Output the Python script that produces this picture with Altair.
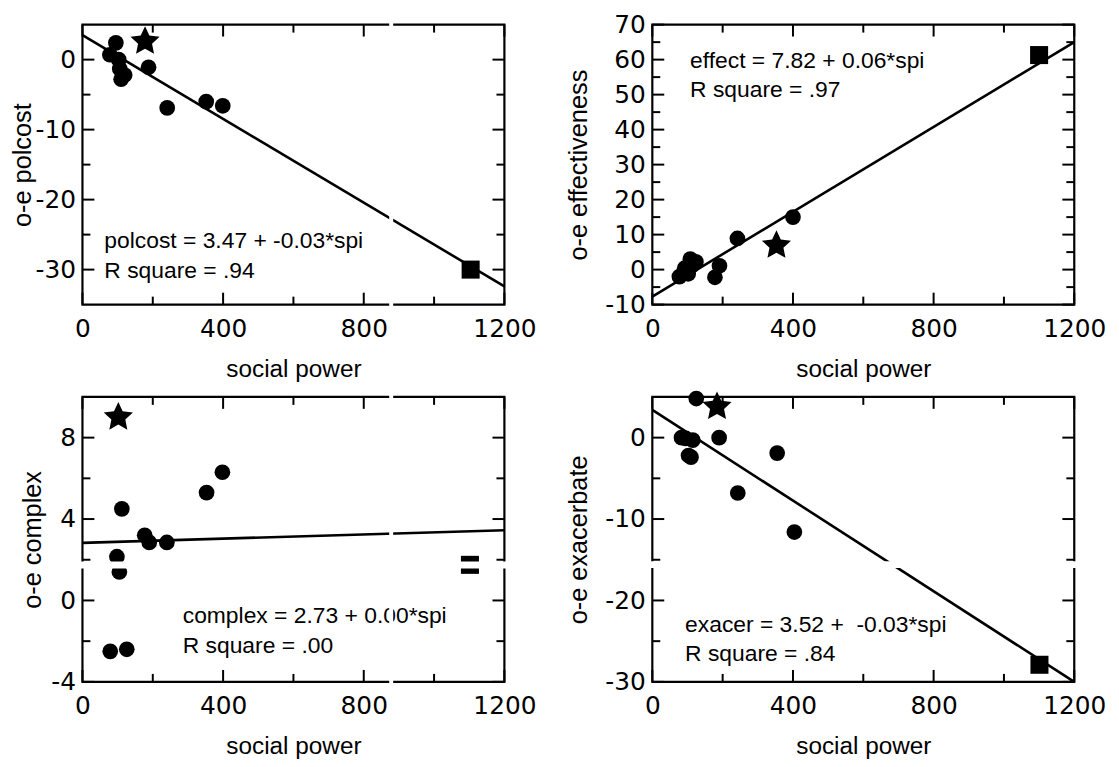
import altair as alt
import pandas as pd
import numpy as np

# ---------------- shared x axis ----------------
x_domain = [0, 1200]
x_major = [0, 400, 800, 1200]
x_minor = [200, 600, 1000]
x_title = "social power"

# ---------------- panel 1: polcost ----------------
pol_circle_x = [78, 95, 103, 106, 110, 120, 188, 241, 352, 399]
pol_circle_y = [0.7, 2.4, 0.0, -1.3, -2.8, -2.2, -1.1, -6.9, -6.0, -6.6]
pol_star_x = [178]
pol_star_y = [2.6]
pol_square_x = [1104]
pol_square_y = [-30.0]
pol_line_x = [0, 1200]
pol_line_y = [3.5, -32.4]
pol_y_domain = [-35, 5]
pol_y_major = [-30, -20, -10, 0]
pol_y_minor = [-25, -15, -5]
pol_notes = ["polcost = 3.47 + -0.03*spi", "R square = .94"]

# ---------------- panel 2: effectiveness ----------------
eff_circle_x = [77, 92, 102, 108, 113, 124, 178, 191, 242, 400]
eff_circle_y = [-2.0, 0.4, -1.2, 3.0, 1.2, 2.2, -2.2, 1.1, 8.9, 15.0]
eff_star_x = [353]
eff_star_y = [6.9]
eff_square_x = [1100]
eff_square_y = [61.3]
eff_line_x = [0, 1200]
eff_line_y = [-7.7, 65.0]
eff_y_domain = [-10, 70]
eff_y_major = [-10, 0, 10, 20, 30, 40, 50, 60, 70]
eff_y_minor = [-5, 5, 15, 25, 35, 45, 55, 65]
eff_notes = ["effect = 7.82 + 0.06*spi", "R square = .97"]

# ---------------- panel 3: complex ----------------
cpx_circle_x = [79, 98, 105, 112, 126, 177, 190, 240, 353, 398]
cpx_circle_y = [-2.5, 2.15, 1.4, 4.5, -2.4, 3.2, 2.85, 2.85, 5.3, 6.3]
cpx_star_x = [102]
cpx_star_y = [9.0]
cpx_square_x = [1102]
cpx_square_y = [1.75]
cpx_line_x = [0, 1200]
cpx_line_y = [2.83, 3.45]
cpx_y_domain = [-4, 10]
cpx_y_major = [-4, 0, 4, 8]
cpx_y_minor = [-2, 2, 6]
cpx_notes = ["complex = 2.73 + 0.00*spi", "R square = .00"]

# ---------------- panel 4: exacerbate ----------------
exa_circle_x = [83, 95, 103, 110, 115, 125, 190, 243, 355, 404]
exa_circle_y = [0.0, -0.1, -2.2, -2.4, -0.3, 4.8, 0.0, -6.8, -1.9, -11.6]
exa_star_x = [184]
exa_star_y = [3.8]
exa_square_x = [1101]
exa_square_y = [-27.9]
exa_line_x = [0, 1200]
exa_line_y = [3.4, -30.0]
exa_y_domain = [-30, 5]
exa_y_major = [-30, -20, -10, 0]
exa_y_minor = [-25, -15, -5]
exa_notes = ["exacer = 3.52 + \u00a0-0.03*spi", "R square = .84"]

# scan gaps visible in the source image (white streaks)
pol_gap_x = [878]
cpx_gap_x = [878]
cpx_gap_y = [1.74]
exa_gap_y = [-15.6]

# ---------------- star symbol ----------------
_ao = np.deg2rad(-90 + 72 * np.arange(5))
_ai = _ao + np.deg2rad(36)
_pts = []
for a, b in zip(_ao, _ai):
    _pts.append((np.cos(a), np.sin(a)))
    _pts.append((0.48 * np.cos(b), 0.48 * np.sin(b)))
STAR = "M" + " L".join(f"{px:.3f},{py:.3f}" for px, py in _pts) + " Z"

FONT = "Liberation Sans"
TICKFONT = "DejaVu Sans"
MAJOR, MINOR = 12, 8


def panel(cx, cy, sx, sy, qx, qy, lx, ly, ydom, ymaj, ymin, ytitle, notes,
          note_x, note_y, width, height, title_pad, vgap=None, hgap=None):
    xs = alt.Scale(domain=x_domain, nice=False, zero=False)
    ys = alt.Scale(domain=ydom, nice=False, zero=False)
    xax = alt.Axis(values=x_major, title=x_title, ticks=False, tickSize=0, domain=False,
                   grid=False, labelFlush=False, labelOverlap=False, labelFont=TICKFONT,
                   labelFontSize=25, labelPadding=12, labelColor="black",
                   titleFont=FONT, titleFontSize=24.5, titleFontWeight="normal",
                   titlePadding=16, titleColor="black", labelExpr="'' + datum.value")
    yax = alt.Axis(values=ymaj, title=ytitle, ticks=False, tickSize=0, domain=False,
                   grid=False, labelFlush=False, labelOverlap=False, labelFont=TICKFONT,
                   labelFontSize=25, labelPadding=7, labelColor="black",
                   titleFont=FONT, titleFontSize=25.5, titleFontWeight="normal",
                   titlePadding=title_pad, titleColor="black", labelExpr="'' + datum.value")

    def X(f):
        return alt.X(f, type="quantitative", scale=xs, axis=xax)

    def Y(f):
        return alt.Y(f, type="quantitative", scale=ys, axis=yax)

    frame_df = pd.DataFrame({"x": [x_domain[0]], "x2": [x_domain[1]],
                             "y": [ydom[0]], "y2": [ydom[1]]})
    frame = alt.Chart(frame_df).mark_rect(fillOpacity=0, stroke="black", strokeWidth=2.2).encode(
        x=X("x"), x2="x2", y=Y("y"), y2="y2")

    layers = [frame]
    # ticks pointing inward on all four sides
    for vals, L in ((ymaj, MAJOR), (ymin, MINOR)):
        d = pd.DataFrame({"v": vals})
        layers.append(alt.Chart(d).mark_rule(color="black", strokeWidth=2).encode(
            y=Y("v"), x=alt.value(0), x2=alt.value(L)))
        layers.append(alt.Chart(d).mark_rule(color="black", strokeWidth=2).encode(
            y=Y("v"), x=alt.value(width), x2=alt.value(width - L)))
    for vals, L in ((x_major, MAJOR), (x_minor, MINOR)):
        d = pd.DataFrame({"v": vals})
        layers.append(alt.Chart(d).mark_rule(color="black", strokeWidth=2).encode(
            x=X("v"), y=alt.value(height), y2=alt.value(height - L)))
        layers.append(alt.Chart(d).mark_rule(color="black", strokeWidth=2).encode(
            x=X("v"), y=alt.value(0), y2=alt.value(L)))

    line = alt.Chart(pd.DataFrame({"x": lx, "y": ly})).mark_line(
        color="black", strokeWidth=2.6).encode(x=X("x"), y=Y("y"))
    layers.append(line)

    circ = alt.Chart(pd.DataFrame({"x": cx, "y": cy})).mark_point(
        shape="circle", filled=True, size=250, color="black", opacity=1).encode(x=X("x"), y=Y("y"))
    star = alt.Chart(pd.DataFrame({"x": sx, "y": sy})).mark_point(
        shape=STAR, filled=True, size=950, color="black", opacity=1).encode(x=X("x"), y=Y("y"))
    sq = alt.Chart(pd.DataFrame({"x": qx, "y": qy})).mark_point(
        shape="square", filled=True, size=330, color="black", opacity=1).encode(x=X("x"), y=Y("y"))
    layers += [circ, star, sq]

    for i, t in enumerate(notes):
        layers.append(alt.Chart(pd.DataFrame({"t": [t]})).mark_text(
            align="left", baseline="alphabetic", font=FONT, fontSize=23, color="black").encode(
            x=alt.value(note_x), y=alt.value(note_y[i]), text="t:N"))

    if vgap is not None:
        layers.append(alt.Chart(pd.DataFrame({"g": vgap})).mark_rule(
            color="white", strokeWidth=4, strokeCap="square").encode(x=X("g")))
    if hgap is not None:
        layers.append(alt.Chart(pd.DataFrame({"g": hgap})).mark_rule(
            color="white", strokeWidth=7, strokeCap="square").encode(y=Y("g")))

    return alt.layer(*layers).properties(width=width, height=height)


W = 425
tl = panel(pol_circle_x, pol_circle_y, pol_star_x, pol_star_y, pol_square_x, pol_square_y,
           pol_line_x, pol_line_y, pol_y_domain, pol_y_major, pol_y_minor, "o-e polcost",
           pol_notes, 22, [225, 255], W, 282, 0, vgap=pol_gap_x)
tr = panel(eff_circle_x, eff_circle_y, eff_star_x, eff_star_y, eff_square_x, eff_square_y,
           eff_line_x, eff_line_y, eff_y_domain, eff_y_major, eff_y_minor, "o-e effectiveness",
           eff_notes, 38, [44, 73], W, 282, 13)
bl = panel(cpx_circle_x, cpx_circle_y, cpx_star_x, cpx_star_y, cpx_square_x, cpx_square_y,
           cpx_line_x, cpx_line_y, cpx_y_domain, cpx_y_major, cpx_y_minor, "o-e complex",
           cpx_notes, 101, [228, 258], W, 287, 5, vgap=cpx_gap_x, hgap=cpx_gap_y)
br = panel(exa_circle_x, exa_circle_y, exa_star_x, exa_star_y, exa_square_x, exa_square_y,
           exa_line_x, exa_line_y, exa_y_domain, exa_y_major, exa_y_minor, "o-e exacerbate",
           exa_notes, 33, [237, 266], W, 287, 13, hgap=exa_gap_y)

chart = alt.concat(tl, tr, bl, br, columns=2, spacing={"row": 93, "column": 149},
                   bounds="flush").properties(
    padding={"left": 2, "top": 2, "right": 5, "bottom": 5}
).configure_view(strokeWidth=0)

chart.save("out.html", embed_options={"renderer": "svg", "actions": False})
